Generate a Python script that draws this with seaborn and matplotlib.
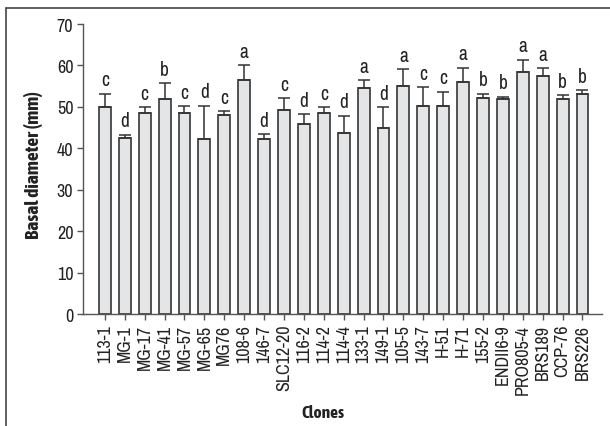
import matplotlib
matplotlib.use("Agg")
import matplotlib.pyplot as plt
import seaborn as sns
import pandas as pd
import numpy as np
from matplotlib.lines import Line2D
from matplotlib import font_manager

clones = ["113-1", "MG-1", "MG-17", "MG-41", "MG-57", "MG-65", "MG76", "108-6",
          "146-7", "SLC12-20", "116-2", "114-2", "114-4", "133-1", "149-1", "105-5",
          "143-7", "H-51", "H-71", "155-2", "ENDII6-9", "PRO805-4", "BRS189",
          "CCP-76", "BRS226"]
means = [49.9, 42.5, 48.4, 51.8, 48.4, 42.2, 48.0, 56.5, 42.3, 49.2, 45.9, 48.4,
         43.6, 54.5, 45.0, 55.0, 50.1, 50.2, 56.1, 52.2, 51.8, 58.4, 57.5, 51.8, 53.0]
err_top = [53.2, 43.3, 50.0, 55.8, 50.2, 50.3, 49.0, 60.1, 43.5, 52.2, 48.2, 50.0,
           47.9, 56.5, 49.9, 59.1, 54.7, 53.7, 59.5, 53.2, 52.5, 61.4, 59.4, 52.9, 54.1]
letters = ["c", "d", "c", "b", "c", "d", "c", "a", "d", "c", "d", "c", "d", "a",
           "d", "a", "c", "c", "a", "b", "b", "a", "a", "b", "b"]
yticks = [0, 10, 20, 30, 40, 50, 60, 70]

sns.set_style("ticks")
names = {f.name for f in font_manager.fontManager.ttflist}
reg = [n for n in ["Archivo Narrow", "Liberation Sans Narrow", "Asap Condensed"] if n in names]
plt.rcParams["font.family"] = (reg[:1] or ["Liberation Sans"]) + ["DejaVu Sans"]
bold_fam = [n for n in ["Asap Condensed", "Liberation Sans Narrow"] if n in names][:1] + ["DejaVu Sans"]

df = pd.DataFrame({"clone": clones, "mean": means})

fig = plt.figure(figsize=(6.1, 4.27), dpi=100)
ax = fig.add_axes([83/610, 1 - 315/427, (602-83)/610, (315-25)/427])

sns.barplot(data=df, x="clone", y="mean", ax=ax, color="#e4e5e7",
            edgecolor="#444444", linewidth=1.3, width=0.6, errorbar=None,
            saturation=1)

x = np.arange(len(clones))
m = np.array(means)
up = np.array(err_top) - m
ax.errorbar(x, m, yerr=[np.zeros_like(up), up], fmt="none", ecolor="#333333",
            elinewidth=1.1, capsize=4.5, capthick=1.1)

for xi, top, lab in zip(x, err_top, letters):
    ax.annotate(lab, (xi, top), xytext=(0, 3), textcoords="offset points",
                ha="center", va="bottom", fontsize=14, color="#222222")

ax.set_xlim(-1.1, 24.98)
ax.set_ylim(0, 70)
ax.set_yticks(yticks)
ax.set_yticklabels([str(t) for t in yticks], fontsize=13, color="#222222")
ax.set_xticks(x)
ax.set_xticklabels(clones, rotation=90, fontsize=13, color="#222222")
ax.tick_params(axis="both", length=4, width=1, color="#555555", pad=3)
for s in ["top", "right"]:
    ax.spines[s].set_visible(False)
for s in ["left", "bottom"]:
    ax.spines[s].set_color("#555555")
    ax.spines[s].set_linewidth(1)

ax.set_xlabel("Clones", fontsize=12.5, fontweight="bold", color="#222222", family=bold_fam)
ax.set_ylabel("Basal diameter (mm)", fontsize=14, fontweight="bold", color="#222222",
              family=bold_fam)
ax.xaxis.set_label_coords(0.462, -0.31)
ax.yaxis.set_label_coords(-0.077, 0.517)

fig.add_artist(Line2D([6/610, 6/610], [0, 1 - 9/427], transform=fig.transFigure,
                      color="#444444", linewidth=1.2))
fig.add_artist(Line2D([6/610, 1], [1 - 9/427, 1 - 9/427], transform=fig.transFigure,
                      color="#444444", linewidth=1.2))

fig.savefig("out.png", dpi=100)
